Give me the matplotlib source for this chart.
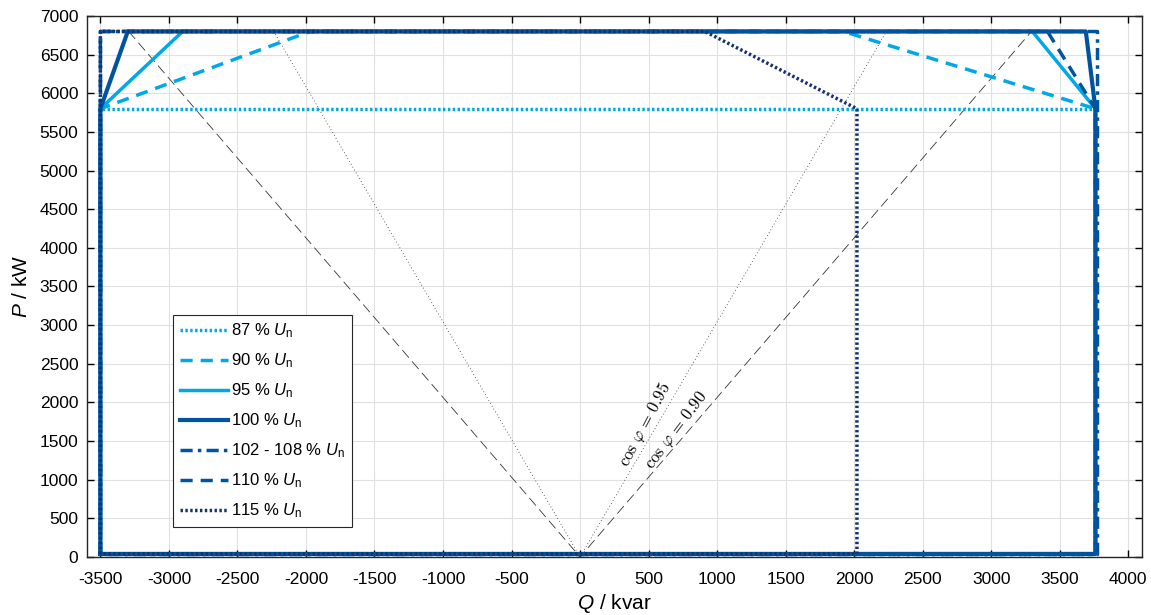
import numpy as np
import matplotlib
matplotlib.use('Agg')
import matplotlib.pyplot as plt

plt.rcParams['font.family'] = ['Liberation Sans', 'DejaVu Sans']
plt.rcParams['mathtext.fontset'] = 'custom'
plt.rcParams['mathtext.rm'] = 'Liberation Sans'
plt.rcParams['mathtext.it'] = 'Liberation Sans:italic'
plt.rcParams['axes.unicode_minus'] = False

# Betriebsgrenzen (Q in kvar, P in kW)
q_87 = [-3500, -3500, 3760, 3760, -3500]
p_87 = [40, 5800, 5800, 40, 40]

q_90 = [-3500, -3500, -1970, 1920, 3760, 3760, -3500]
p_90 = [40, 5800, 6800, 6800, 5800, 40, 40]

q_95 = [-3500, -3500, -2900, 3300, 3760, 3760, -3500]
p_95 = [40, 5800, 6800, 6800, 5800, 40, 40]

q_100 = [-3500, -3500, -3300, 3690, 3760, 3760, -3500]
p_100 = [40, 5800, 6800, 6800, 5800, 40, 40]

q_102 = [-3500, -3500, 3770, 3770, -3500]
p_102 = [40, 6800, 6800, 40, 40]

q_110 = [-3500, -3500, 3410, 3760, 3760, -3500]
p_110 = [40, 6800, 6800, 5800, 40, 40]

q_115 = [-3500, -3500, 910, 2020, 2020, -3500]
p_115 = [40, 6800, 6800, 5800, 40, 40]

cos_phi = [0.95, 0.90]
p_max = 6800

hell = '#00A8E6'
dunkel = '#00549F'
navy = '#15326F'

fig = plt.figure(figsize=(11.51, 6.15), dpi=100)
ax = fig.add_axes([0.0753, 0.0943, 0.9169, 0.8797])

# cos phi Linien
for c, ls in zip(cos_phi, [(0, (1, 3)), (0, (12, 6))]):
    q = p_max * np.tan(np.arccos(c))
    ax.plot([-q, 0, q], [p_max, 0, p_max], color='#333333', lw=0.6, linestyle=ls)

ax.plot(q_87, p_87, color=hell, lw=2.5, linestyle=(0, (0.7, 0.7)), label='87 % $U_\\mathrm{n}$')
ax.plot(q_90, p_90, color=hell, lw=2.5, linestyle=(0, (3.5, 2.3)), label='90 % $U_\\mathrm{n}$')
ax.plot(q_95, p_95, color=hell, lw=2.5, label='95 % $U_\\mathrm{n}$')
ax.plot(q_100, p_100, color=dunkel, lw=3, label='100 % $U_\\mathrm{n}$')
ax.plot(q_102, p_102, color=dunkel, lw=2.5, linestyle=(0, (3.5, 1.5, 1, 1.5)), label='102 - 108 % $U_\\mathrm{n}$')
ax.plot(q_110, p_110, color=dunkel, lw=2.5, linestyle=(0, (3.5, 2.3)), label='110 % $U_\\mathrm{n}$')
ax.plot(q_115, p_115, color=navy, lw=2.5, linestyle=(0, (0.7, 0.7)), label='115 % $U_\\mathrm{n}$')

ax.text(472, 1710, r'$\cos\,\varphi\, =\, 0.95$', rotation=62, ha='center', va='center',
        fontsize=12, math_fontfamily='cm', rotation_mode='anchor')
ax.text(705, 1640, r'$\cos\,\varphi\, =\, 0.90$', rotation=53, ha='center', va='center',
        fontsize=12, math_fontfamily='cm', rotation_mode='anchor')

ax.set_xlim(-3600, 4100)
ax.set_ylim(0, 7000)
ax.set_xticks(np.arange(-3500, 4001, 500))
ax.set_yticks(np.arange(0, 7001, 500))
ax.grid(True, color='#E0E0E0', lw=0.8)
ax.set_axisbelow(True)
ax.tick_params(direction='in', top=True, right=True, labelsize=12.5, length=5, width=1)
ax.tick_params(axis='x', pad=10.5)
ax.tick_params(axis='y', pad=6)
for s in ax.spines.values():
    s.set_linewidth(1.0)
    s.set_color('#262626')

ax.set_xlabel('$Q$ / kvar', fontsize=15, labelpad=4)
ax.set_ylabel('$P$ / kW', fontsize=15, labelpad=6)

leg = ax.legend(loc='lower left', bbox_to_anchor=(0.0818, 0.0555), fontsize=12,
                frameon=True, fancybox=False, framealpha=1, edgecolor='#262626',
                handlelength=2.9, labelspacing=0.68, borderpad=0.4, handletextpad=0.2,
                borderaxespad=0)
leg.get_frame().set_linewidth(0.8)

fig.savefig('out.png', dpi=100)
